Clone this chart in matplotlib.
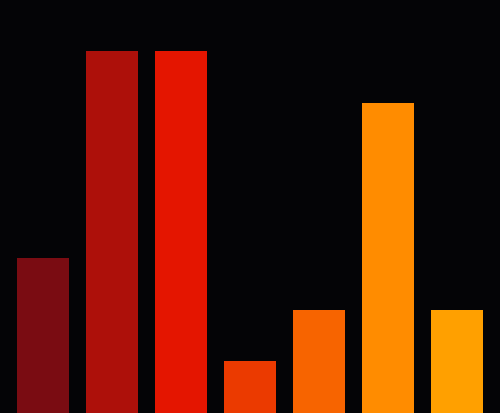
import matplotlib.pyplot as plt

categories = ['A', 'B', 'C', 'D', 'E', 'F', 'G']
values = [3, 7, 7, 1, 2, 6, 2]
colors = ['#7a0c12', '#ad100a', '#e41500', '#eb3a00', '#f76400', '#ff8c00', '#ffa000']

bg = '#040406'
fig = plt.figure(figsize=(5.0, 4.14), dpi=100, facecolor=bg)
ax = fig.add_axes([0, 0, 1, 1], facecolor=bg)

x = list(range(len(categories)))
ax.bar(x, values, width=0.75, color=colors, edgecolor='none')

ax.set_xlim(-0.623, 6.623)
ax.set_ylim(0, 8)
ax.axis('off')

fig.savefig('out.png', dpi=100, facecolor=bg)
